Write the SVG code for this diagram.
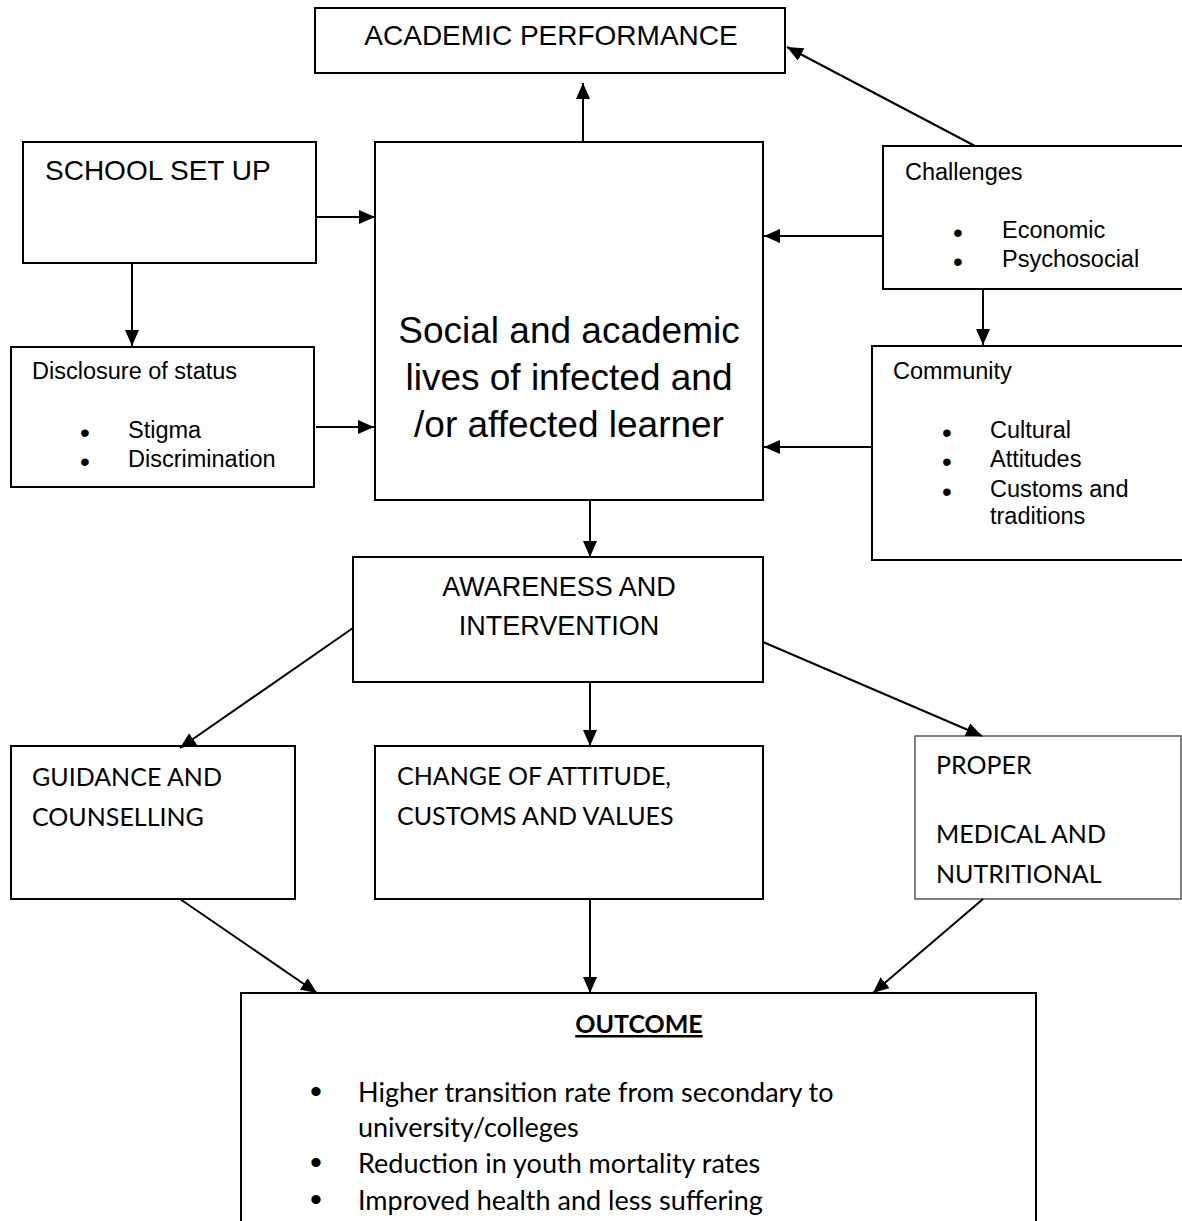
<svg xmlns="http://www.w3.org/2000/svg" width="1182" height="1221" viewBox="0 0 1182 1221">
<defs>
<style>
.box{fill:#fff;stroke:#000;stroke-width:2}
.boxg{fill:#fff;stroke:#555;stroke-width:1.5}
.ar{font-family:"Liberation Sans",Arial,sans-serif;fill:#000}
.ca{font-family:Lato,"Open Sans",sans-serif;fill:#000}
.s{font-size:23.5px}
.b{font-family:"Liberation Sans",Arial,sans-serif;font-size:28px;text-anchor:middle;fill:#000}
.bo{font-family:"Liberation Sans",Arial,sans-serif;font-size:34px;text-anchor:middle;fill:#000}
.edge{fill:none;stroke:#000;stroke-width:2;marker-end:url(#ah)}
</style>
<marker id="ah" markerUnits="userSpaceOnUse" markerWidth="16" markerHeight="14" refX="16" refY="7" orient="auto">
<path d="M0,0 L16,7 L0,14 Z" fill="#000"/>
</marker>
</defs>
<rect width="1182" height="1221" fill="#fff"/>
<g id="academic">
<rect class="box" x="315" y="8" width="470" height="65"/>
<text class="ar" x="551" y="45" font-size="28" text-anchor="middle">ACADEMIC PERFORMANCE</text>
</g>
<g id="school">
<rect class="box" x="23" y="142" width="293" height="121"/>
<text class="ar" x="45" y="180" font-size="28">SCHOOL SET UP</text>
</g>
<g id="disclosure">
<rect class="box" x="11" y="347" width="303" height="140"/>
<text class="ar s" x="32" y="379">Disclosure of status</text>
<text class="b"><tspan x="85" y="441.5">•</tspan><tspan x="85" y="470.5">•</tspan></text>
<text class="ar s"><tspan x="128" y="438">Stigma</tspan><tspan x="128" y="467">Discrimination</tspan></text>
</g>
<g id="central">
<rect class="box" x="375" y="142" width="388" height="358"/>
<text class="ar" font-size="37" text-anchor="middle"><tspan x="569" y="343">Social and academic</tspan><tspan x="569" y="390">lives of infected and</tspan><tspan x="569" y="437">/or affected learner</tspan></text>
</g>
<g id="challenges">
<rect class="box" x="883" y="146" width="310" height="143"/>
<text class="ar s" x="905" y="180">Challenges</text>
<text class="b"><tspan x="958" y="241.5">•</tspan><tspan x="958" y="270.5">•</tspan></text>
<text class="ar s"><tspan x="1002" y="238">Economic</tspan><tspan x="1002" y="267">Psychosocial</tspan></text>
</g>
<g id="community">
<rect class="box" x="872" y="346" width="320" height="214"/>
<text class="ar s" x="893" y="379">Community</text>
<text class="b"><tspan x="947" y="441.5">•</tspan><tspan x="947" y="470.5">•</tspan><tspan x="947" y="500.5">•</tspan></text>
<text class="ar s"><tspan x="990" y="438">Cultural</tspan><tspan x="990" y="467">Attitudes</tspan><tspan x="990" y="497">Customs and</tspan><tspan x="990" y="524">traditions</tspan></text>
</g>
<g id="awareness">
<rect class="box" x="353" y="557" width="410" height="125"/>
<text class="ar" font-size="27" text-anchor="middle"><tspan x="559" y="596">AWARENESS AND</tspan><tspan x="559" y="635">INTERVENTION</tspan></text>
</g>
<g id="guidance">
<rect class="box" x="11" y="746" width="284" height="153"/>
<text class="ca" font-size="25"><tspan x="32" y="786">GUIDANCE AND</tspan><tspan x="32" y="826">COUNSELLING</tspan></text>
</g>
<g id="change">
<rect class="box" x="375" y="746" width="388" height="153"/>
<text class="ca" font-size="25"><tspan x="397" y="785">CHANGE OF ATTITUDE,</tspan><tspan x="397" y="825">CUSTOMS AND VALUES</tspan></text>
</g>
<g id="proper">
<rect class="boxg" x="915" y="736" width="266" height="163"/>
<text class="ca" x="936" y="774" font-size="25">PROPER</text>
<text class="ca" font-size="25"><tspan x="936" y="843">MEDICAL AND</tspan><tspan x="936" y="883">NUTRITIONAL</tspan></text>
</g>
<g id="outcome">
<rect class="box" x="241" y="993" width="795" height="260"/>
<text class="ca" x="639" y="1033" font-size="25" font-weight="bold" text-anchor="middle" text-decoration="underline">OUTCOME</text>
<text class="bo"><tspan x="316" y="1103">•</tspan><tspan x="316" y="1174">•</tspan><tspan x="316" y="1211">•</tspan></text>
<text class="ca" font-size="27"><tspan x="358" y="1102">Higher transition rate from secondary to</tspan><tspan x="358" y="1137">university/colleges</tspan><tspan x="358" y="1173">Reduction in youth mortality rates</tspan><tspan x="358" y="1210">Improved health and less suffering</tspan></text>
</g>
<g id="connectors">
<path class="edge" d="M583,141 L583,83"/>
<path class="edge" d="M975,146 L787,47"/>
<path class="edge" d="M316,217 L375,217"/>
<path class="edge" d="M132,263 L132,346"/>
<path class="edge" d="M316,427 L374,427"/>
<path class="edge" d="M883,236 L764,236"/>
<path class="edge" d="M983,289 L983,345"/>
<path class="edge" d="M872,447 L764,447"/>
<path class="edge" d="M590,500 L590,557"/>
<path class="edge" d="M353,628 L180,748"/>
<path class="edge" d="M590,682 L590,746"/>
<path class="edge" d="M763,642 L982,736"/>
<path class="edge" d="M180,899 L317,993"/>
<path class="edge" d="M590,899 L590,993"/>
<path class="edge" d="M983,899 L873,993"/>
</g>
</svg>
